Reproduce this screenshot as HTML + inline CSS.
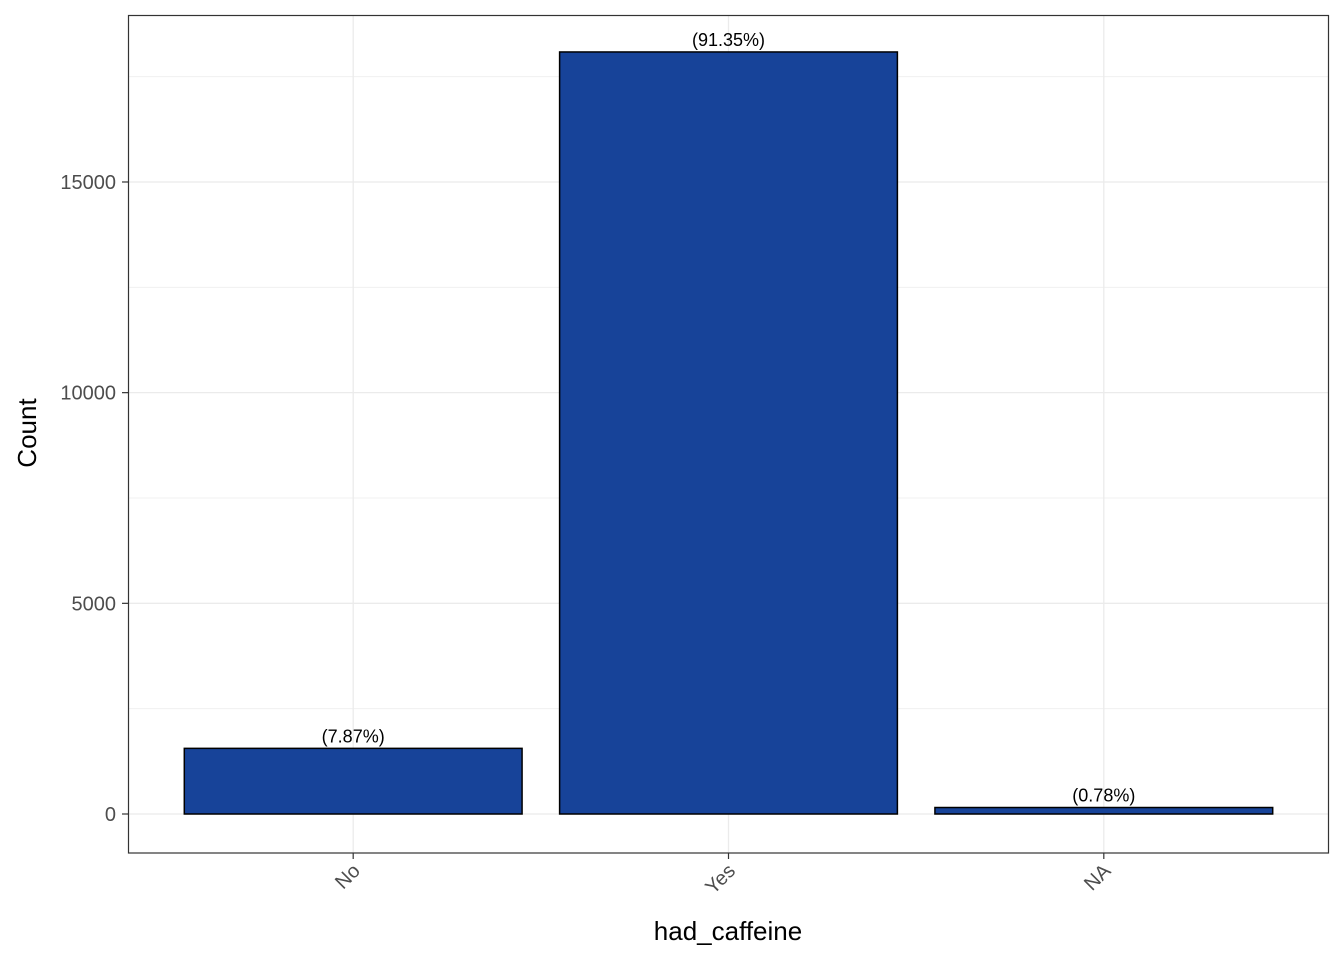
<!DOCTYPE html>
<html><head><meta charset="utf-8"><style>
html,body{margin:0;padding:0;background:#fff;}
svg{display:block;font-family:"Liberation Sans",Arial,sans-serif;}
</style></head><body>
<svg id="chart" width="1344" height="960">
<rect x="0" y="0" width="1344" height="960" fill="#fff"/>
<g id="grid"></g>
<g id="bars"></g>
<rect x="128.5" y="15.5" width="1200" height="837.5" fill="none" stroke="#333" stroke-width="1.2"/>
<g id="axes"></g>
<text x="728" y="940" font-size="26" text-anchor="middle" fill="#000">had_caffeine</text>
<text transform="translate(36,433) rotate(-90)" font-size="26" text-anchor="middle" fill="#000">Count</text>
</svg>
<script>
const categories = ["No", "Yes", "NA"];
const counts = [1558, 18086, 154];
const pctLabels = ["(7.87%)", "(91.35%)", "(0.78%)"];
const yTicks = [0, 5000, 10000, 15000];
const yTickLabels = ["0", "5000", "10000", "15000"];

const NS = "http://www.w3.org/2000/svg";
const px0 = 128, px1 = 1329;
const y0 = 814, pxPerUnit = 210.67 / 5000;
const y = v => y0 - v * pxPerUnit;
const band = (px1 - px0) / (categories.length + 0.2);
const xC = i => px0 + band * 0.6 + band * i;
const bw = band * 0.9;

function mk(tag, attrs, parent) {
  const e = document.createElementNS(NS, tag);
  for (const k in attrs) e.setAttribute(k, attrs[k]);
  parent.appendChild(e);
  return e;
}
const grid = document.getElementById("grid");
const bars = document.getElementById("bars");
const axes = document.getElementById("axes");

// minor gridlines
for (let i = 0; i < yTicks.length; i++) {
  const mv = yTicks[i] + 2500;
  const ln = mk("line", {x1: px0, x2: px1, y1: y(mv), y2: y(mv), stroke: "#f0f0f0", "stroke-width": 1}, grid);
  
  
}
yTicks.forEach((t, i) => {
  const ln = mk("line", {x1: px0, x2: px1, y1: y(t), y2: y(t), stroke: "#ebebeb", "stroke-width": 1.3}, grid);
  
  
  const tk = mk("line", {x1: px0 - 6, x2: px0, y1: y(t), y2: y(t), stroke: "#333", "stroke-width": 1.2}, axes);
  
  
  const tx = mk("text", {x: px0 - 12, y: y(t) + 7, "font-size": 20, "text-anchor": "end", fill: "#4d4d4d"}, axes);
  tx.textContent = yTickLabels[i];
  
  
});
categories.forEach((c, i) => {
  const x = xC(i);
  const gl = mk("line", {x1: x, x2: x, y1: 15, y2: 853, stroke: "#ebebeb", "stroke-width": 1.3}, grid);
  
  
  const r = mk("rect", {x: x - bw / 2, y: y(counts[i]), width: bw, height: y0 - y(counts[i]), fill: "#174399", stroke: "#000", "stroke-width": 1.5}, bars);
  
  
  const lb = mk("text", {x: x, y: y(counts[i]) - 6, "font-size": 18, "text-anchor": "middle", fill: "#000"}, bars);
  lb.textContent = pctLabels[i];
  
  
  const tk = mk("line", {x1: x, x2: x, y1: 853, y2: 859, stroke: "#333", "stroke-width": 1.2}, axes);
  
  
  const tx = mk("text", {transform: "translate(" + (x + 8) + ",872) rotate(-45)", "font-size": 20, "text-anchor": "end", fill: "#4d4d4d"}, axes);
  tx.textContent = c;
  
  
});
</script>
</body></html>
